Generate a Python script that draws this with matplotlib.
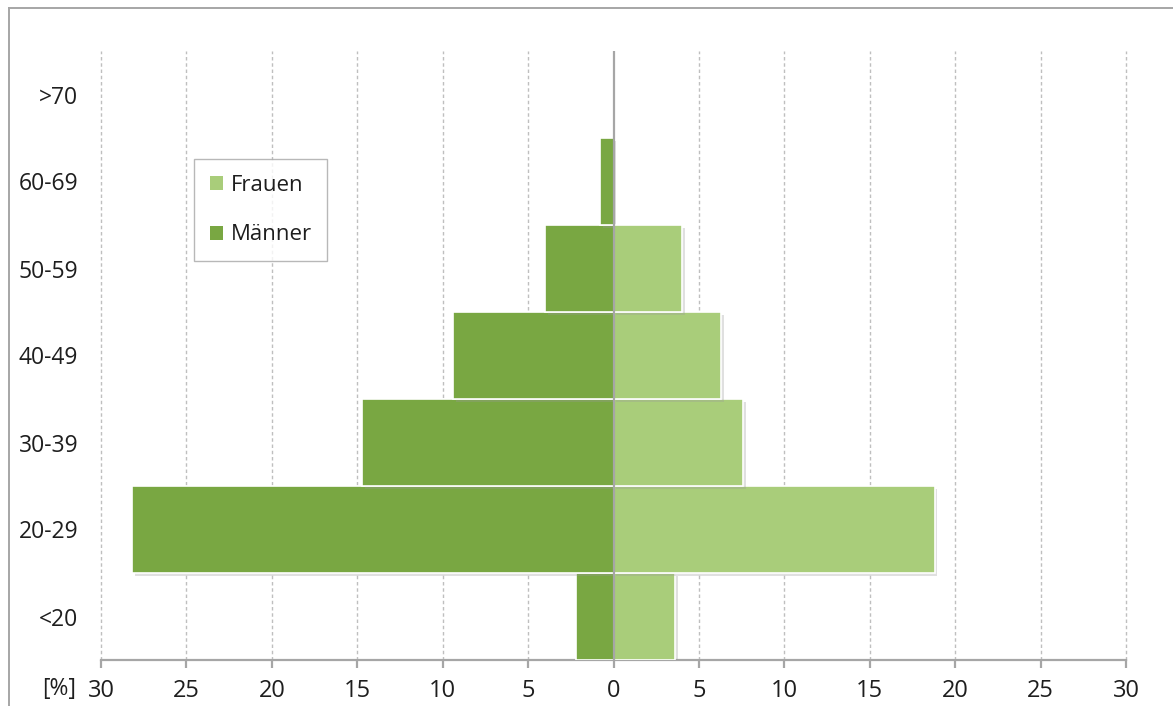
import matplotlib
matplotlib.use("Agg")
import matplotlib.pyplot as plt
from matplotlib import patheffects as pe
from matplotlib.lines import Line2D
from matplotlib.patches import Patch

plt.rcParams['font.family'] = ['Open Sans', 'DejaVu Sans']

# Age groups, bottom to top
age_groups = ["<20", "20-29", "30-39", "40-49", "50-59", "60-69", ">70"]
maenner = [2.2, 28.2, 14.7, 9.4, 4.0, 0.8, 0.0]   # percent, drawn to the left
frauen = [3.6, 18.8, 7.6, 6.3, 4.0, 0.0, 0.0]     # percent, drawn to the right
x_ticks = [-30, -25, -20, -15, -10, -5, 0, 5, 10, 15, 20, 25, 30]
x_tick_labels = [str(abs(v)) for v in x_ticks]

col_m = "#79A742"
col_f = "#A9CD7A"
grey = "#A6A6A6"
txt = "#1E1E1E"

fig = plt.figure(figsize=(11.73, 7.06), dpi=100)
W, H = 1173, 706
ax = fig.add_axes([101 / W, 1 - 660 / H, (1126 - 101) / W, (660 - 51) / H])

shadow = [pe.SimplePatchShadow(offset=(2, -2.5), shadow_rgbFace="#999999", alpha=0.3), pe.Normal()]
y = range(len(age_groups))
ax.barh(y, [-v for v in maenner], height=1.0, color=col_m, edgecolor="white",
        linewidth=1.2, path_effects=shadow, zorder=3)
ax.barh(y, frauen, height=1.0, color=col_f, edgecolor="white",
        linewidth=1.2, path_effects=shadow, zorder=3)

ax.set_xlim(-30, 30)
ax.set_ylim(-0.5, len(age_groups) - 0.5)

# dashed vertical grid, solid zero line
for v in x_ticks:
    if v == 0:
        continue
    ax.axvline(v, color="#BFBFBF", linestyle=(0, (2.5, 2)), linewidth=1.0, zorder=1, clip_on=False)
ax.axvline(0, color=grey, linewidth=1.6, zorder=4)

for s in ["top", "right", "left"]:
    ax.spines[s].set_visible(False)
ax.spines["bottom"].set_color(grey)
ax.spines["bottom"].set_linewidth(1.6)

ax.set_xticks(x_ticks)
ax.set_xticklabels(x_tick_labels, fontsize=17, color=txt)
ax.tick_params(axis="x", direction="out", length=6, width=1.6, color=grey, pad=8)
ax.set_yticks(list(y))
ax.set_yticklabels(age_groups, fontsize=16.5, color=txt)
ax.tick_params(axis="y", length=0, pad=16.5)

fig.text(76 / W, 1 - 689 / H, "[%]", fontsize=16.5, color=txt, ha="right", va="center")

handles = [Patch(facecolor=col_f, edgecolor="none"), Patch(facecolor=col_m, edgecolor="none")]
leg = fig.legend(handles, ["Frauen", "Männer"], loc="upper left",
                 bbox_to_anchor=(194 / W, 1 - 159 / H), fontsize=16, frameon=True,
                 fancybox=False, edgecolor=grey, handlelength=0.6, handleheight=0.6,
                 handletextpad=0.35, labelspacing=1.3, borderpad=0.7, borderaxespad=0)
leg.get_frame().set_linewidth(1.0)
for t in leg.get_texts():
    t.set_color(txt)

# outer frame (left and top edges)
fig.add_artist(Line2D([9 / W, 9 / W], [0, 1 - 8 / H], transform=fig.transFigure, color=grey, linewidth=1.4))
fig.add_artist(Line2D([9 / W, 1], [1 - 8 / H, 1 - 8 / H], transform=fig.transFigure, color=grey, linewidth=1.4))

fig.savefig("out.png", dpi=100)
